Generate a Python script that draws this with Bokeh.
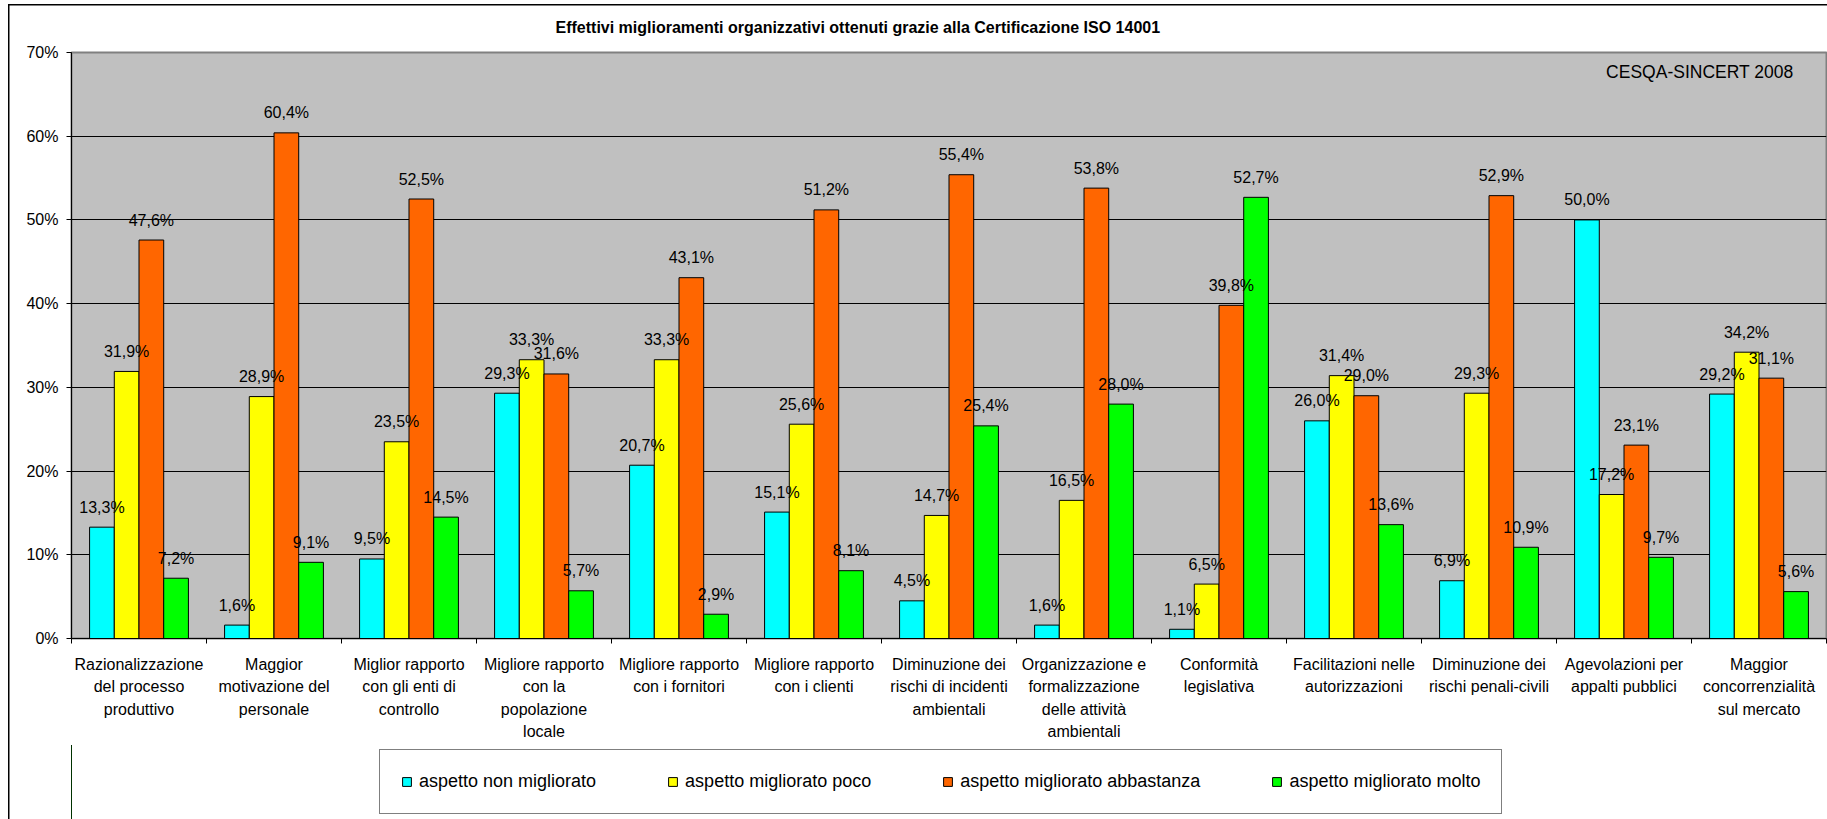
from bokeh.plotting import figure
from bokeh.layouts import column
from bokeh.models import (Range1d, FixedTicker, PrintfTickFormatter,
                          ColumnDataSource, Label, Legend, LegendItem)
from bokeh.transform import dodge
from bokeh.core.properties import value
from bokeh.embed import file_html
from bokeh.resources import INLINE

# ---------------- data ----------------
categories = [
    "Razionalizzazione\ndel processo\nproduttivo",
    "Maggior\nmotivazione del\npersonale",
    "Miglior rapporto\ncon gli enti di\ncontrollo",
    "Migliore rapporto\ncon la\npopolazione\nlocale",
    "Migliore rapporto\ncon i fornitori",
    "Migliore rapporto\ncon i clienti",
    "Diminuzione dei\nrischi di incidenti\nambientali",
    "Organizzazione e\nformalizzazione\ndelle attività\nambientali",
    "Conformità\nlegislativa",
    "Facilitazioni nelle\nautorizzazioni",
    "Diminuzione dei\nrischi penali-civili",
    "Agevolazioni per\nappalti pubblici",
    "Maggior\nconcorrenzialità\nsul mercato",
]
series_names = ["aspetto non migliorato", "aspetto migliorato poco",
                "aspetto migliorato abbastanza", "aspetto migliorato molto"]
non_migliorato = [13.3, 1.6, 9.5, 29.3, 20.7, 15.1, 4.5, 1.6, 1.1, 26.0, 6.9, 50.0, 29.2]
migliorato_poco = [31.9, 28.9, 23.5, 33.3, 33.3, 25.6, 14.7, 16.5, 6.5, 31.4, 29.3, 17.2, 34.2]
migliorato_abbastanza = [47.6, 60.4, 52.5, 31.6, 43.1, 51.2, 55.4, 53.8, 39.8, 29.0, 52.9, 23.1, 31.1]
migliorato_molto = [7.2, 9.1, 14.5, 5.7, 2.9, 8.1, 25.4, 28.0, 52.7, 13.6, 10.9, 9.7, 5.6]
y_ticks = [0, 10, 20, 30, 40, 50, 60, 70]
title_text = "Effettivi miglioramenti organizzativi ottenuti grazie alla Certificazione ISO 14001"
source_text = "CESQA-SINCERT 2008"

# ---------------- style ----------------
colors = ["#00FFFF", "#FFFF00", "#FF6600", "#00FF00"]
FONT = "Liberation Sans"
W = 1827
H_MAIN, H_LEG = 745, 74

series = [non_migliorato, migliorato_poco, migliorato_abbastanza, migliorato_molto]
n = len(categories)
centres = [i + 0.5 for i in range(n)]      # category slot centres on the x scale
edges = list(range(n + 1))                 # category slot boundaries

def fmt(v):
    return ("%.1f" % v).replace(".", ",") + "%"

data = {"pos": centres}
for i, s in enumerate(series):
    data["s%d" % i] = s
    data["l%d" % i] = [fmt(v) for v in s]
src = ColumnDataSource(data)

p = figure(width=W, height=H_MAIN, frame_width=1755, frame_height=586,
           x_range=Range1d(0, n), y_range=Range1d(0, 70),
           output_backend="svg", toolbar_location=None, title=title_text,
           min_border_left=71, min_border_right=1, min_border_top=52, min_border_bottom=107)
p.background_fill_color = "#C0C0C0"
p.border_fill_alpha = 0
p.outline_line_color = "#808080"
p.outline_line_width = 2
p.xgrid.grid_line_color = None
# outer chart frame lines (left and top edges of the chart object)
p.styles = {
    "background-color": "white",
    "background-image": "linear-gradient(#000,#000), linear-gradient(#000,#000)",
    "background-size": "1.5px 100%, 100% 1.5px",
    "background-position": "8px 4px, 8px 4px",
    "background-repeat": "no-repeat",
}

# title
p.title.text_font = FONT
p.title.text_font_size = "16px"
p.title.text_font_style = "bold"
p.title.text_color = "black"
p.title.align = "left"
p.title.offset = 484
p.title.standoff = 32
p.title.vertical_align = "middle"

# y axis
p.yaxis.ticker = FixedTicker(ticks=y_ticks)
p.yaxis.formatter = PrintfTickFormatter(format="%d%%")
p.yaxis.major_tick_out = 5
p.yaxis.major_tick_in = 0
p.yaxis.minor_tick_out = 0
p.yaxis.minor_tick_in = 0
p.yaxis.axis_line_color = "black"
p.yaxis.major_tick_line_color = "black"
p.yaxis.major_label_standoff = 8
p.yaxis.major_label_text_font = FONT
p.yaxis.major_label_text_font_size = "16px"
p.yaxis.major_label_text_color = "black"
p.ygrid.ticker = FixedTicker(ticks=y_ticks)
p.ygrid.grid_line_color = "black"
p.ygrid.grid_line_width = 1

# x axis: labels at category centres, tick marks at category boundaries
p.xaxis.ticker = FixedTicker(ticks=centres, minor_ticks=edges)
p.xaxis.major_label_overrides = {centres[i]: categories[i] for i in range(n)}
p.xaxis.axis_line_color = "black"
p.xaxis.major_tick_out = 0
p.xaxis.major_tick_in = 0
p.xaxis.minor_tick_out = 5
p.xaxis.minor_tick_in = 0
p.xaxis.minor_tick_line_color = "black"
p.xaxis.major_label_standoff = 12
p.xaxis.major_label_text_font = FONT
p.xaxis.major_label_text_font_size = "16px"
p.xaxis.major_label_text_color = "black"
p.xaxis.major_label_text_line_height = 1.33

# bars and data labels
bw = 0.183
offsets = [-1.5 * bw, -0.5 * bw, 0.5 * bw, 1.5 * bw]
for i in range(4):
    p.vbar(x=dodge("pos", offsets[i]), top="s%d" % i, width=bw,
           source=src, fill_color=colors[i], line_color="black", line_width=1)
for i in range(4):
    p.text(x=dodge("pos", offsets[i]), y="s%d" % i, text="l%d" % i,
           source=src, y_offset=-20, text_align="center", text_baseline="middle",
           text_font=value(FONT), text_font_size="16px", text_color="black")

# source note inside the plot area
p.add_layout(Label(x=1722, y=566.8, x_units="screen", y_units="screen", text=source_text,
                   text_align="right", text_baseline="middle", text_font=FONT,
                   text_font_size="17.5px", text_color="black"))

# ---------------- legend strip (separate small figure below the chart) ----------------
# its x range lies beyond all categories, so the series bars drawn here stay out of view
# and only serve as legend swatches
p2 = figure(width=W, height=H_LEG, x_range=Range1d(n + 5, n + 6), y_range=Range1d(0, 1),
            output_backend="svg", toolbar_location=None,
            x_axis_location=None, y_axis_location=None,
            min_border_left=0, min_border_right=0, min_border_top=0, min_border_bottom=0)
p2.outline_line_color = None
p2.background_fill_alpha = 0
p2.border_fill_alpha = 0
p2.grid.grid_line_color = None
p2.styles = {
    "background-color": "white",
    "background-image": "linear-gradient(#000,#000)",
    "background-size": "1.5px 100%",
    "background-position": "8px 0px",
    "background-repeat": "no-repeat",
}
leg_renderers = [p2.vbar(x="pos", top="s%d" % i, width=bw, source=src,
                         fill_color=colors[i], line_color="black", line_width=1)
                 for i in range(4)]
legend = Legend(items=[LegendItem(label=series_names[i], renderers=[leg_renderers[i]]) for i in range(4)],
                orientation="horizontal", location=(308, 5), padding=21, spacing=71,
                glyph_width=11, glyph_height=11, label_standoff=7, margin=0,
                label_text_font=FONT, label_text_font_size="18px", label_text_color="black",
                border_line_color="black", border_line_width=1,
                background_fill_color="white", background_fill_alpha=1)
p2.add_layout(legend)

layout = column(p, p2, spacing=0)
open("out.html", "w").write(file_html(layout, INLINE))
